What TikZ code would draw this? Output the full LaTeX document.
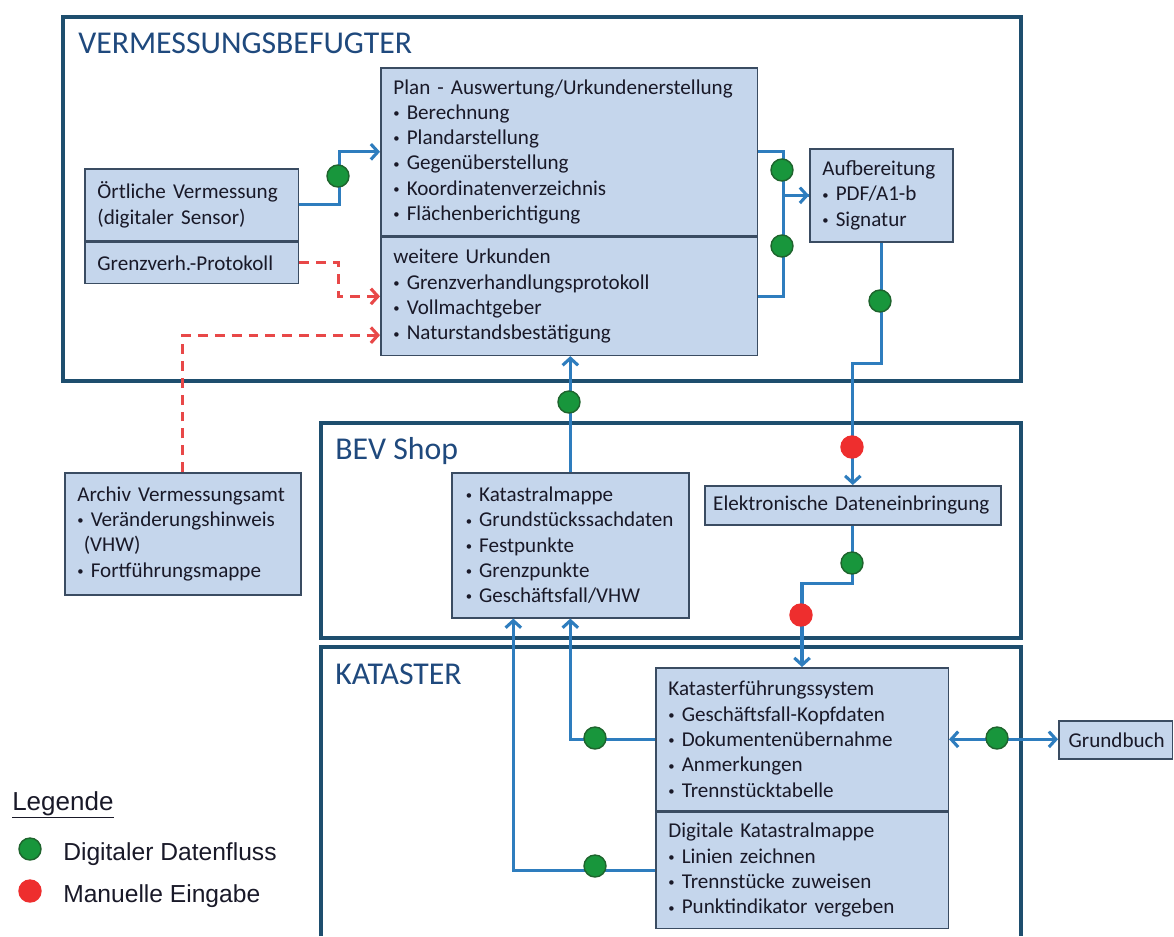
\documentclass[tikz,border=0pt]{standalone}
\usepackage{fontspec}
\setmainfont{Carlito}
\newfontfamily\legendfont{Liberation Sans}
\usepackage{tikz}
\usetikzlibrary{arrows.meta, positioning, calc}
\definecolor{zonecol}{RGB}{30,78,110}
\definecolor{titlecol}{RGB}{31,73,125}
\definecolor{boxfill}{RGB}{197,214,236}
\definecolor{boxline}{RGB}{58,76,98}
\definecolor{flowblue}{RGB}{46,125,190}
\definecolor{dotgreen}{RGB}{24,150,60}
\definecolor{dotgreenline}{RGB}{30,100,45}
\definecolor{dotred}{RGB}{238,46,46}
\definecolor{dashred}{RGB}{232,72,72}
\definecolor{txt}{RGB}{25,25,40}
\newcommand{\bul}{{\fontsize{9}{9}\selectfont\raisebox{0.3ex}{•}}\ }
\hyphenpenalty=10000
\exhyphenpenalty=10000

\begin{document}
\begin{tikzpicture}[x=0.025cm, y=-0.025cm,
  zone/.style={draw=zonecol, line width=2.2pt},
  title/.style={anchor=base west, text=titlecol, font=\fontsize{22.6}{26}\selectfont, inner sep=0pt},
  box/.style={draw=boxline, fill=boxfill, line width=1.1pt, anchor=north west, align=left,
    inner xsep=9pt, inner ysep=2pt, text=txt, font=\fontsize{15}{18}\selectfont},
  flow/.style={draw=flowblue, line width=2.2pt},
  arr/.style={-{Straight Barb[length=5pt,width=11pt]}},
  manual/.style={draw=dashred, line width=2.2pt, dash pattern=on 7pt off 5pt,
    -{Straight Barb[length=5pt,width=11pt]}},
  gdot/.style={circle, fill=dotgreen, draw=dotgreenline, line width=1pt, minimum size=0.55cm, inner sep=0pt},
  rdot/.style={circle, fill=dotred, draw=dotred, line width=1pt, minimum size=0.55cm, inner sep=0pt},
  legtext/.style={anchor=base west, inner sep=0pt, text=txt, font=\legendfont\fontsize{17.5}{21}\selectfont}]

  \fill[white] (0,0) rectangle (1174,936);
  \useasboundingbox (0,0) rectangle (1174,936);

  % Bereiche
  \draw[zone] (63,17) rectangle (1021,381);
  \draw[zone] (321,423) rectangle (1021,638);
  \draw[zone] (321,936) -- (321,647) -- (1021,647) -- (1021,936);
  \node[title] (tverm) at (78,53) {VERMESSUNGSBEFUGTER};
  \node[title] (tshop) at (335,459) {BEV Shop};
  \node[title] (tkat) at (335,684) {KATASTER};

  % Vermessungsbefugter
  \node[box, text width=134pt, minimum height=1.8cm] (oert) at (84,168) {Örtliche Vermessung\\(digitaler Sensor)};
  \node[box, text width=134pt, minimum height=1.025cm] (grenz) at (oert.south west) {Grenzverh.-Protokoll};
  \node[box, text width=250pt, minimum height=4.2cm] (plan) at (380,67) {Plan - Auswertung/Urkundenerstellung\\\bul Berechnung\\\bul Plandarstellung\\\bul Gegenüberstellung\\\bul Koordinatenverzeichnis\\\bul Flächenberichtigung};
  \node[box, text width=250pt, minimum height=2.95cm] (weit) at (plan.south west) {weitere Urkunden\\\bul Grenzverhandlungsprotokoll\\\bul Vollmachtgeber\\\bul Naturstandsbestätigung};
  \node[box, text width=84pt, minimum height=2.325cm] (aufb) at (809,148) {Aufbereitung\\\bul PDF/A1-b\\\bul Signatur};
  \node[box, text width=150pt, minimum height=3.05cm] (archiv) at (64,472) {Archiv Vermessungsamt\\\bul Veränderungshinweis\\\hspace*{0.3em}(VHW)\\\bul Fortführungsmappe};

  % BEV Shop
  \node[box, inner xsep=10pt, text width=148.6pt, minimum height=3.625cm] (shop) at (451,472) {\bul Katastralmappe\\\bul Grundstückssachdaten\\\bul Festpunkte\\\bul Grenzpunkte\\\bul Geschäftsfall/VHW};
  \node[box, inner xsep=6pt, text width=198.5pt, minimum height=0.975cm] (elek) at (704,485) {Elektronische Dateneinbringung};

  % Kataster
  \node[box, text width=190pt, minimum height=3.575cm] (kfs) at (655,667) {Katasterführungssystem\\\bul Geschäftsfall-Kopfdaten\\\bul Dokumentenübernahme\\\bul Anmerkungen\\\bul Trennstücktabelle};
  \node[box, text width=190pt, minimum height=2.9cm] (dkm) at (kfs.south west) {Digitale Katastralmappe\\\bul Linien zeichnen\\\bul Trennstücke zuweisen\\\bul Punktindikator vergeben};
  \node[box, inner xsep=7pt, text width=67pt, minimum height=0.95cm] (grund) at (1058,720) {Grundbuch};

  % Datenfluss
  \draw[flow, arr] (oert.east) -- ++(40,0) |- (plan.west);
  \draw[flow] (plan.east) -- ++(25,0) |- (aufb.west);
  \draw[flow, arr] (weit.east) -- ++(25,0) |- (aufb.west);
  \draw[flow, arr] (aufb.south) -- ++(0,121) -| (elek.north);
  \draw[flow, arr] (elek.south) -- ++(0,58) -| (kfs.north);
  \draw[flow, arr] (shop.north) -- (shop.north |- weit.south);
  \draw[flow, arr] (kfs.west) -| (shop.south);
  \draw[flow, arr] (dkm.west) -| ($(shop.south)+(-57,0)$);
  \draw[flow, {Straight Barb[length=5pt,width=11pt]}-{Straight Barb[length=5pt,width=11pt]}] (kfs.east) -- (kfs.east -| grund.west);
  \draw[manual] (grenz.east) -- ++(39,0) |- (weit.west);
  \draw[manual] (archiv.north) |- ($(weit.south west)+(0,-21)$);

  \node[gdot] (g1) at (338,176) {};
  \node[gdot] (g2) at (782,170) {};
  \node[gdot] (g3) at (782,246) {};
  \node[gdot] (g4) at (880,301) {};
  \node[rdot] (r1) at (852,447) {};
  \node[gdot] (g5) at (852,563) {};
  \node[rdot] (r2) at (801,615) {};
  \node[gdot] (g6) at (569,402) {};
  \node[gdot] (g7) at (595,738) {};
  \node[gdot] (g8) at (595,866) {};
  \node[gdot] (g9) at (997,738) {};

  % Legende
  \node[legtext, font=\legendfont\fontsize{18.5}{22}\selectfont] (leg) at (12,810) {\underline{Legende}};
  \node[gdot] (lg) at (30,849) {};
  \node[legtext] (lgt) at (63,860) {Digitaler Datenfluss};
  \node[rdot] (lr) at (30,891) {};
  \node[legtext] (lrt) at (63,902) {Manuelle Eingabe};
\end{tikzpicture}
\end{document}
